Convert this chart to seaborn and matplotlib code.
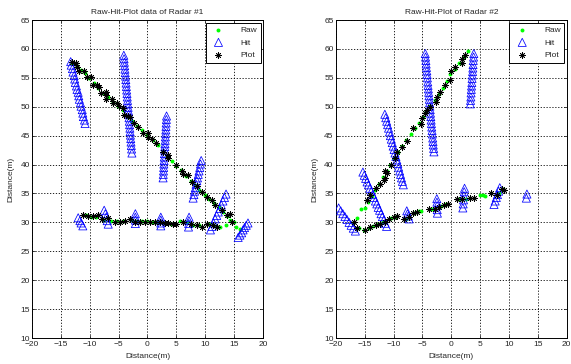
import numpy as np
import pandas as pd
import matplotlib
matplotlib.use("Agg")
import matplotlib.pyplot as plt
import seaborn as sns

# ---------------- Radar #1 ----------------
r1_raw_x = [-13.0, -12.2, -11.5, -10.9, -10.1, -9.3, -8.5, -7.7, -6.9, -6.0, -5.1, -4.3, -3.4, -2.6,
            -1.8, -0.9, 0.0, 0.9, 1.8, 2.6, 3.3, 4.2, 5.0, 5.8, 6.7, 7.5, 8.2, 9.0, 9.9, 10.7, 11.5,
            12.3, 13.1, 13.7, 14.2, 14.9, 13.6, 15.4, 16.0,
            -10.7, -9.8, -8.9, -7.5, -6.3, -5.2, -4.3, -2.6, -1.8, -0.9, 0.0, 0.9, 1.7, 2.6, 4.0,
            5.6, 6.8, 7.9, 8.9, 10.7, 11.8, 12.6]
r1_raw_y = [57.6, 57.0, 56.4, 55.8, 55.0, 54.1, 53.3, 52.4, 51.6, 50.8, 50.1, 49.4, 48.3, 47.6,
            46.7, 45.9, 45.1, 44.3, 43.3, 42.4, 41.5, 40.7, 39.8, 39.0, 38.0, 37.2, 36.4, 35.6, 34.8,
            34.1, 33.3, 32.6, 31.8, 31.1, 30.4, 30.0, 29.5, 29.2, 28.8,
            31.2, 30.9, 31.0, 30.4, 30.3, 30.3, 30.2, 30.4, 30.2, 30.2, 30.2, 30.1, 30.0, 29.9, 29.8,
            30.2, 30.0, 29.6, 29.5, 29.7, 29.3, 29.2]

r1_hit_x = [-13.3, -13.2, -13.0, -12.9, -12.7, -12.6, -12.5, -12.3, -12.2, -12.0, -11.9, -11.8, -11.6,
            -11.5, -11.3, -11.2, -11.1, -10.9, -10.8,
            -4.1, -4.05, -4.0, -3.95, -3.9, -3.85, -3.8, -3.75, -3.7, -3.65, -3.6, -3.55, -3.5, -3.45,
            -3.4, -3.35, -3.3, -3.25, -3.2, -3.15, -3.1, -3.05, -3.0, -2.95, -2.9, -2.85, -2.8, -2.75, -2.7,
            3.3, 3.27, 3.23, 3.2, 3.17, 3.13, 3.1, 3.07, 3.03, 3.0, 2.97, 2.93, 2.9, 2.87, 2.83, 2.8,
            2.77, 2.73, 2.7,
            9.3, 9.17, 9.05, 8.92, 8.79, 8.66, 8.54, 8.41, 8.28, 8.15, 8.03, 7.9,
            13.6, 13.33, 13.06, 12.79, 12.52, 12.25, 11.98, 11.71, 11.44, 11.17, 10.9,
            17.4, 17.1, 16.8, 16.55, 16.3, 16.0, 15.7,
            -12.0, -11.7, -11.5, -11.2,
            -7.5, -7.3, -7.15, -6.98, -6.8,
            -2.1, -2.1, -2.1, -2.1,
            2.3, 2.3, 2.3, 2.3,
            7.2, 7.17, 7.13, 7.1]
r1_hit_y = [57.8, 57.2, 56.6, 56.0, 55.4, 54.8, 54.2, 53.6, 53.0, 52.5, 51.9, 51.3, 50.7, 50.1,
            49.5, 48.9, 48.3, 47.7, 47.1,
            58.9, 58.3, 57.7, 57.1, 56.5, 55.9, 55.3, 54.7, 54.1, 53.5, 52.9, 52.3, 51.7, 51.1, 50.5,
            49.9, 49.3, 48.7, 48.1, 47.5, 46.9, 46.3, 45.7, 45.1, 44.5, 43.9, 43.3, 42.7, 42.0,
            48.4, 47.8, 47.2, 46.6, 46.0, 45.4, 44.8, 44.2, 43.6, 43.1, 42.5, 41.9, 41.3, 40.7, 40.1,
            39.5, 38.9, 38.3, 37.7,
            40.7, 40.1, 39.5, 38.9, 38.3, 37.7, 37.2, 36.6, 36.0, 35.4, 34.8, 34.2,
            34.9, 34.3, 33.7, 33.0, 32.4, 31.8, 31.2, 30.6, 29.9, 29.3, 28.7,
            29.9, 29.5, 29.1, 28.7, 28.2, 27.8, 27.4,
            30.8, 30.3, 29.9, 29.4,
            32.1, 31.5, 30.9, 30.3, 29.7,
            31.5, 30.9, 30.4, 29.8,
            30.9, 30.4, 29.9, 29.4,
            30.9, 30.3, 29.8, 29.2]

r1_plot_x = [-13.1, -12.4, -12.15, -11.9, -11.0, -10.4, -9.8, -9.4, -8.8, -8.4, -8.1, -7.2, -7.1, -7.2,
             -6.2, -5.9, -5.2, -4.9, -4.2, -4.1, -3.3, -3.0, -2.3, -1.6, -0.7, 0.1, 0.1, 0.7, 1.4, 2.7,
             3.5, 3.6, 4.9, 5.9, 6.2, 7.1, 7.65, 8.5, 9.4, 10.25, 11.1, 11.7, 12.85, 13.7, 14.3, 14.6,
             -11.1, -10.25, -9.4, -8.5, -7.9, -6.8, -5.6, -4.8, -3.9, -3.0, -2.2, -1.3, -0.4, 0.4, 1.3,
             2.1, 3.0, 3.6, 4.4, 5.0, 6.2, 7.6, 8.5, 9.4, 10.25, 11.4, 12.0]
r1_plot_y = [57.8, 57.5, 56.9, 56.2, 56.2, 55.1, 55.1, 53.8, 53.8, 53.4, 52.4, 52.6, 52.0, 51.3,
             51.3, 50.6, 50.6, 50.1, 49.7, 48.6, 48.4, 48.2, 47.2, 46.5, 45.4, 45.4, 44.7, 44.5, 43.7,
             42.2, 41.6, 41.1, 39.9, 38.9, 38.4, 38.2, 37.0, 36.3, 35.3, 34.4, 33.9, 33.0, 32.1, 31.3,
             31.5, 30.1,
             31.3, 31.1, 31.1, 31.3, 30.5, 30.7, 30.1, 30.1, 30.3, 30.5, 30.1, 30.1, 30.1, 30.1, 30.0,
             30.0, 29.9, 29.9, 29.8, 29.8, 30.1, 29.7, 29.5, 29.2, 29.8, 29.5, 29.2]

# ---------------- Radar #2 ----------------
r2_raw_x = [2.9, 2.2, 1.4, 0.6, -0.2, -0.8, -1.5, -2.2, -2.9, -3.6, -4.3, -4.9, -5.6, -6.3, -7.0,
            -7.8, -8.6, -9.3, -10.0, -10.6, -11.2, -11.8, -12.5, -13.2, -13.8, -14.5, -15.0, -15.7,
            -16.3, -17.0,
            -16.0, -15.1, -14.3, -13.5, -12.6, -11.8, -10.4, -9.7, -7.8, -6.5, -5.6, -5.2, -3.4, -1.8,
            -0.9, 1.4, 2.6, 5.05, 5.5, 5.9, 8.3, 8.9]
r2_raw_y = [59.7, 58.6, 57.6, 56.6, 55.6, 54.4, 53.3, 52.2, 51.2, 50.2, 49.2, 48.3, 47.2, 46.3, 45.2,
            44.2, 43.2, 42.2, 41.1, 40.0, 38.9, 37.8, 36.7, 35.6, 34.6, 33.6, 32.5, 32.4, 30.7, 29.9,
            29.0, 28.6, 29.1, 29.4, 29.7, 30.0, 30.7, 31.0, 30.6, 31.6, 31.9, 31.9, 32.3, 32.9,
            33.1, 34.0, 34.1, 34.7, 34.8, 34.6, 35.0, 35.7]

r2_hit_x = [-4.5, -4.45, -4.39, -4.34, -4.29, -4.23, -4.18, -4.13, -4.07, -4.02, -3.96, -3.91, -3.86,
            -3.8, -3.75, -3.7, -3.64, -3.59, -3.54, -3.48, -3.43, -3.38, -3.32, -3.27, -3.21, -3.16,
            -3.11, -3.05, -3.0,
            3.9, 3.86, 3.81, 3.77, 3.73, 3.69, 3.64, 3.6, 3.56, 3.51, 3.47, 3.43, 3.39, 3.34, 3.3,
            -11.5, -11.34, -11.18, -11.02, -10.86, -10.7, -10.54, -10.38, -10.22, -10.06, -9.9, -9.74,
            -9.58, -9.42, -9.26, -9.1, -8.94, -8.78, -8.62, -8.46, -8.3,
            -15.3, -15.06, -14.82, -14.58, -14.34, -14.09, -13.85, -13.61, -13.37, -13.13, -12.89,
            -12.65, -12.41, -12.16, -11.92, -11.68, -11.44, -11.2,
            -19.5, -19.14, -18.78, -18.41, -18.05, -17.69, -17.33, -16.96, -16.6,
            -7.7, -7.57, -7.43, -7.3,
            -2.5, -2.48, -2.45, -2.43, -2.4,
            2.3, 2.24, 2.18, 2.12, 2.06, 2.0,
            8.4, 8.2, 8.0, 7.8, 7.6, 7.4,
            13.1, 13.0]
r2_hit_y = [59.2, 58.6, 58.0, 57.4, 56.8, 56.2, 55.6, 55.0, 54.3, 53.7, 53.1, 52.5, 51.9, 51.3, 50.7,
            50.1, 49.5, 48.9, 48.3, 47.7, 47.1, 46.5, 45.9, 45.3, 44.6, 44.0, 43.4, 42.8, 42.2,
            59.2, 58.6, 58.0, 57.3, 56.7, 56.1, 55.5, 54.9, 54.2, 53.6, 53.0, 52.4, 51.7, 51.1, 50.5,
            48.7, 48.1, 47.5, 46.9, 46.3, 45.65, 45.0, 44.4, 43.8, 43.2, 42.6, 42.0, 41.4, 40.8, 40.2,
            39.55, 38.9, 38.3, 37.7, 37.1, 36.5,
            38.7, 38.15, 37.6, 37.0, 36.5, 35.9, 35.4, 34.8, 34.3, 33.7, 33.2, 32.6, 32.1, 31.5, 31.0,
            30.4, 29.85, 29.3,
            32.5, 32.0, 31.5, 31.0, 30.5, 30.0, 29.5, 29.0, 28.5,
            32.0, 31.5, 31.1, 30.6,
            34.1, 33.5, 32.9, 32.2, 31.6,
            35.9, 35.3, 34.6, 33.9, 33.2, 32.5,
            36.0, 35.4, 34.8, 34.3, 33.7, 33.1,
            34.9, 34.2]

r2_plot_x = [2.45, 1.8, 1.8, 0.7, -0.1, -0.3, -1.0, -1.9, -2.5, -2.7, -3.6, -4.2, -4.5, -5.05, -5.3,
             -6.65, -7.65, -8.6, -9.4, -9.8, -10.5, -11.1, -11.4, -11.5, -11.7, -12.4, -13.0, -14.0,
             -14.6, -16.9,
             -16.3, -14.9, -14.0, -13.1, -12.3, -11.4, -10.8, -9.96, -9.4, -8.2, -7.35, -6.7, -5.9,
             -3.9, -2.9, -2.2, -1.3, -0.6, 1.0, 1.9, 3.3, 3.9, 6.8, 7.9, 8.8, 9.1]
r2_plot_y = [58.9, 58.2, 57.6, 56.9, 56.1, 54.6, 53.8, 52.6, 51.7, 50.9, 50.0, 49.5, 48.9, 48.0, 47.1,
             46.3, 44.0, 43.1, 42.2, 41.1, 39.9, 38.6, 38.8, 37.6, 37.4, 36.7, 35.9, 34.7, 33.9, 30.1,
             29.0, 28.7, 29.2, 29.5, 29.8, 30.1, 30.5, 31.0, 31.1, 30.5, 30.9, 31.7, 31.8,
             32.3, 32.3, 32.7, 33.0, 33.1, 34.0, 34.0, 34.2, 34.2, 35.1, 34.7, 35.7, 35.6]

titles = ["Raw-Hit-Plot data of Radar #1", "Raw-Hit-Plot of Radar #2"]
x_ticks = [-20, -15, -10, -5, 0, 5, 10, 15, 20]
y_ticks = [10, 15, 20, 25, 30, 35, 40, 45, 50, 55, 60, 65]
series_names = ["Raw", "Hit", "Plot"]

sns.set_style("white")
plt.rcParams["font.family"] = ["Liberation Sans", "DejaVu Sans"]

fig = plt.figure(figsize=(5.71, 3.64), dpi=100)
ax1 = fig.add_axes([0.056, 0.0714, 0.4046, 0.8736])
ax2 = fig.add_axes([0.588, 0.0714, 0.4046, 0.8736])

radars = [
    (ax1, r1_raw_x, r1_raw_y, r1_hit_x, r1_hit_y, r1_plot_x, r1_plot_y, titles[0]),
    (ax2, r2_raw_x, r2_raw_y, r2_hit_x, r2_hit_y, r2_plot_x, r2_plot_y, titles[1]),
]

fs = 6.0
for ax, rx, ry, hx, hy, px, py, title in radars:
    raw_df = pd.DataFrame({"x": rx, "y": ry})
    hit_df = pd.DataFrame({"x": hx, "y": hy})
    plot_df = pd.DataFrame({"x": px, "y": py})
    sns.scatterplot(data=raw_df, x="x", y="y", ax=ax, marker="o", s=8, color=(0, 1, 0),
                    linewidth=0, label=series_names[0], zorder=3)
    sns.scatterplot(data=hit_df, x="x", y="y", ax=ax, marker="^", s=34, facecolor="none",
                    edgecolor=(0, 0, 1), linewidth=0.55, label=series_names[1], zorder=4)
    sns.scatterplot(data=plot_df, x="x", y="y", ax=ax, marker=(8, 2, 0), s=18, color="black",
                    linewidth=0.55, label=series_names[2], zorder=5)
    ax.set_xlim(-20, 20)
    ax.set_ylim(10, 65)
    ax.set_xticks(x_ticks)
    ax.set_yticks(y_ticks)
    ax.tick_params(axis="both", direction="in", length=2.5, width=0.6, labelsize=fs,
                   top=True, right=True, bottom=True, left=True)
    ax.tick_params(axis="x", pad=2.5)
    ax.tick_params(axis="y", pad=1.5)
    ax.grid(True, linestyle=(0, (1.5, 2)), color="black", linewidth=0.6)
    for sp in ax.spines.values():
        sp.set_visible(True)
        sp.set_color("black")
        sp.set_linewidth(0.7)
    ax.set_xlabel("Distance(m)", fontsize=fs, labelpad=3)
    ax.set_ylabel("Distance(m)", fontsize=fs, labelpad=4)
    ax.set_title(title, fontsize=fs, pad=4)
    leg = ax.legend(loc="upper right", fontsize=fs, frameon=True, fancybox=False,
                    borderaxespad=0.3, handletextpad=1.5, labelspacing=0.55, borderpad=0.45,
                    handlelength=2.2, markerscale=1.0)
    leg.get_frame().set_edgecolor("black")
    leg.get_frame().set_linewidth(0.7)
    leg.get_frame().set_alpha(1)

fig.savefig("out.png", dpi=100)
